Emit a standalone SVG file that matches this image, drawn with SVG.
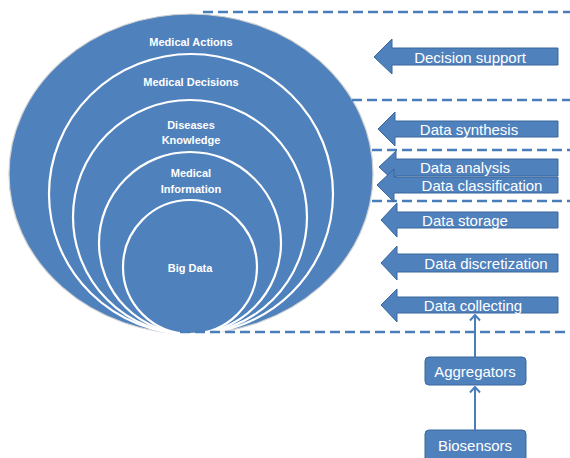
<svg xmlns="http://www.w3.org/2000/svg" width="570" height="458" viewBox="0 0 570 458">
<style>
.ring{fill:#4F81BD;stroke:#ffffff;stroke-width:2.2}
.lbl{font-family:"Liberation Sans",Arial,sans-serif;font-weight:bold;font-size:11px;fill:#ffffff;text-anchor:middle}
.dash{stroke:#4A7EBB;stroke-width:2.6;stroke-dasharray:10 5;fill:none}
.blk{fill:#4F81BD;stroke:#3A679C;stroke-width:1}
.atx{font-family:"Liberation Sans",Arial,sans-serif;font-size:15px;fill:#ffffff;text-anchor:middle;dominant-baseline:central}
.con{stroke:#4A7EBB;stroke-width:2;fill:none}
</style>
<defs>
<marker id="chev" viewBox="0 0 12 12" refX="10.5" refY="6" markerWidth="12" markerHeight="12" markerUnits="userSpaceOnUse" orient="auto">
<path d="M5,1 L10.5,6 L5,11" fill="none" stroke="#4A7EBB" stroke-width="2"/>
</marker>
</defs>
<rect width="570" height="458" fill="#ffffff"/>
<g id="layers">
<g id="medical-actions"><ellipse cx="191" cy="174" rx="182" ry="160" fill="#4F81BD" stroke="#cfcfcf" stroke-width="1.2"/><text class="lbl" x="191" y="46">Medical Actions</text></g>
<g id="medical-decisions"><ellipse class="ring" cx="191" cy="194" rx="142" ry="140"/><text class="lbl" x="191" y="86">Medical Decisions</text></g>
<g id="diseases-knowledge"><ellipse class="ring" cx="190" cy="217" rx="117" ry="117"/><text class="lbl" x="191" y="129">Diseases</text><text class="lbl" x="191" y="144">Knowledge</text></g>
<g id="medical-information"><ellipse class="ring" cx="190" cy="243" rx="91" ry="91"/><text class="lbl" x="191" y="177">Medical</text><text class="lbl" x="191" y="193">Information</text></g>
<g id="big-data"><ellipse class="ring" cx="190" cy="267" rx="67" ry="67"/><text class="lbl" x="190" y="272">Big Data</text></g>
</g>
<g id="dividers">
<line class="dash" x1="203" y1="12" x2="570" y2="12"/>
<line class="dash" x1="352" y1="100" x2="570" y2="100"/>
<line class="dash" x1="372" y1="150" x2="570" y2="150"/>
<line class="dash" x1="372" y1="201" x2="570" y2="201"/>
<line class="dash" x1="180" y1="332" x2="570" y2="332"/>
</g>
<g id="decision-support"><polygon class="blk" points="374,57 392,39 392,48 558,48 558,65 392,65 392,74"/><text class="atx" x="470" y="57">Decision support</text></g>
<g id="data-synthesis"><polygon class="blk" points="378,129 395,112 395,121 558,121 558,137 395,137 395,146"/><text class="atx" x="469" y="129">Data synthesis</text></g>
<g id="data-analysis"><polygon class="blk" points="379,167 396,151 396,159 558,159 558,176 396,176 396,183"/><text class="atx" x="465" y="167">Data analysis</text></g>
<g id="data-classification"><polygon class="blk" points="377,185 394,169 394,177 558,177 558,193 394,193 394,202"/><text class="atx" x="482" y="185">Data classification</text></g>
<g id="data-storage"><polygon class="blk" points="381,220 397,203 397,212 558,212 558,228 397,228 397,237"/><text class="atx" x="465" y="220">Data storage</text></g>
<g id="data-discretization"><polygon class="blk" points="381,263 397,246 397,254 558,254 558,272 397,272 397,280"/><text class="atx" x="486" y="263">Data discretization</text></g>
<g id="data-collecting"><polygon class="blk" points="381,305 397,289 397,297 558,297 558,313 397,313 397,322"/><text class="atx" x="473" y="305">Data collecting</text></g>
<g id="aggregators"><rect class="blk" x="425" y="357" width="101" height="28" rx="4" stroke="#385D8A"/><text class="atx" x="475" y="371">Aggregators</text></g>
<g id="biosensors"><rect class="blk" x="425" y="430" width="101" height="34" rx="4" stroke="#385D8A"/><text class="atx" x="475" y="445">Biosensors</text></g>
<g id="connectors">
<line class="con" x1="475" y1="357" x2="475" y2="315" marker-end="url(#chev)"/>
<line class="con" x1="475" y1="430" x2="475" y2="387" marker-end="url(#chev)"/>
</g>
</svg>
